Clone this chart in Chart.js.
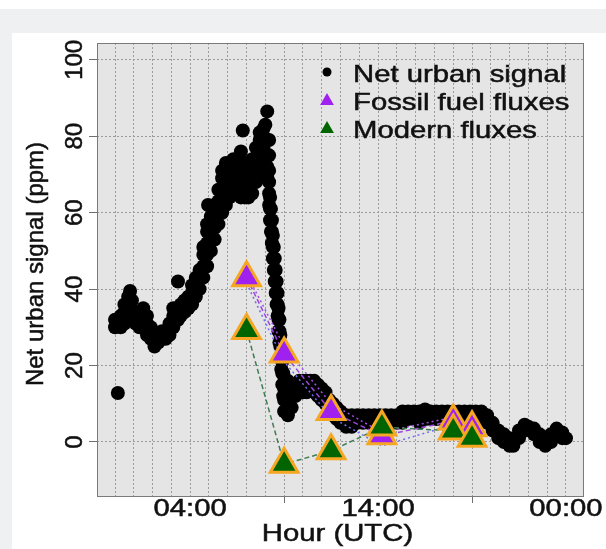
<!DOCTYPE html>
<html>
<head>
<meta charset="utf-8">
<script src="https://cdn.jsdelivr.net/npm/chart.js@4.4.1/dist/chart.umd.min.js"></script>
<style>
  body { margin: 0; background: #ffffff; }
  #wrap { width: 606px; height: 549px; }
</style>
</head>
<body>
<div id="wrap"><canvas id="signal" width="606" height="549"></canvas></div>
<script>
// hour (UTC) of each sample, and the readings taken at that hour
const signalHours = [
  0, 0.15, 0.3, 0.5, 0.7, 0.8, 0.9, 1.1, 1.3, 1.5, 1.7, 1.9, 2.1, 2.3, 2.5, 2.7,
  2.9, 3.1, 3.35, 3.5, 3.7, 3.9, 4.1, 4.3, 4.5, 4.7, 4.9, 4.95, 5.1, 5.3, 5.5,
  5.7, 5.9, 6.1, 6.3, 6.5, 6.7, 6.8, 6.9, 7.1, 7.3, 7.5, 7.7, 7.9, 8.0, 8.1,
  8.2, 8.25, 8.3, 8.35, 8.4, 8.45, 8.5, 8.55, 8.6, 8.65, 8.7, 8.75, 8.8, 8.85,
  8.9, 8.95, 9.0, 9.2, 9.4, 9.6, 9.8, 10.0, 10.2,
  10.4, 10.6, 10.8, 11.0, 11.2, 11.4, 11.6, 11.8, 12.0, 12.3, 12.6, 12.9, 13.2,
  13.5, 13.8, 14.1, 14.4, 14.7, 15.0, 15.3, 15.6, 15.9, 16.2, 16.5, 16.8, 17.1,
  17.4, 17.7, 18.0, 18.3, 18.6, 18.9, 19.2, 19.5, 19.8, 20.1, 20.4, 20.7, 21.0,
  21.2, 21.5, 21.8, 22.0, 22.3, 22.6, 22.9, 23.2, 23.5, 23.8, 24.0,
];
const signalValues = [
  [30, 32], [12.8, 31], [30, 33], [31, 34, 36], [33, 36, 38], [39.5], [34, 37],
  [31, 34], [30, 33], [32, 35], [28, 31, 33], [27, 30], [25, 27], [26, 28],
  [27, 29], [27, 29], [28, 31], [30, 33, 35], [32, 35, 42], [33, 36], [34, 37],
  [35, 38], [36, 39, 41], [38, 41, 43], [40, 43, 45], [43, 46, 49, 51],
  [46, 49, 52, 55, 57], [62], [50, 53, 56, 59], [53, 56, 59, 62], [57, 60, 63, 66],
  [60, 63, 66, 69, 71], [62, 65, 68, 71, 73], [64, 67, 70, 73], [65, 68, 71, 74],
  [65, 68, 71, 74], [64, 67, 70, 73, 76], [81.5], [64, 67, 70, 73], [64, 67, 70, 73],
  [65, 68, 71, 74], [68, 71, 74, 77], [70, 73, 76, 79, 81], [71, 74, 77, 80, 82], [83],
  [69, 72, 75, 86.5], [62, 65, 68, 71, 75, 79], [58, 61, 64], [55, 58, 61], [52, 55, 58],
  [48, 51, 54], [45, 48, 51], [42, 45, 48], [39, 42, 45], [36, 39, 42], [33, 36, 39],
  [29, 32, 35], [26, 29, 32], [22, 25, 28], [19, 22, 25], [15, 18, 21], [12, 15, 18],
  [8, 11, 14], [7, 10, 13, 16], [9, 12, 15], [12, 15], [13, 16], [13, 16],
  [13, 16], [14, 16], [13, 16], [12, 15], [11, 14], [10, 13], [8, 11], [7, 10],
  [6, 9], [5, 8], [4, 7], [4, 7], [5, 7], [5, 7], [5, 7], [5, 7], [5, 7], [5, 7],
  [5, 7], [5, 7], [5, 8], [6, 8], [6, 8], [5, 8], [6, 8.5], [6, 8], [6, 8],
  [6, 8], [6, 8], [6, 8], [6, 8], [6, 8], [6, 8], [6, 8], [6, 8], [5, 7], [3, 5],
  [1, 3], [0, 2], [-1, 1], [-1], [1, 3], [3, 4.5], [4], [2, 3.5], [0, 2], [-1, 1],
  [0, 2], [2, 3.5], [1, 2.5], [1],
];

// flux estimates (ppm) at the flask hours
const fluxHours = [7, 9, 11.5, 14.2, 18, 19];
const fossilFlux = [43, 23, 8, 1.6, 5.5, 3.7];
const fossilUpper = [44, 25, 10, 2.5, 6.5, 4.5];
const fossilLower = [41.5, 21, 6.5, -1, 4.5, 3];
const modernFlux = [29.2, -5.8, -2.3, 3.9, 2.9, 1.0];

const gridHours = [0, 1, 2, 3, 4, 5, 6, 7, 8, 9, 10, 11, 12, 13, 14, 15, 16, 17, 18, 19, 20, 21, 22, 23, 24];
const xTickHours = [4, 9, 14, 19, 24];
const xTickLabels = ["04:00", "", "14:00", "", "00:00"];
const yTicks = [0, 20, 40, 60, 80, 100];
const legendLabels = ["Net urban signal", "Fossil fuel fluxes", "Modern fluxes"];

const FONT = '24px "Liberation Sans", Arial, sans-serif';
const WIDEN = 1.22; // horizontal text in the figure is drawn wider than normal

const signalPoints = [];
signalHours.forEach((h, i) => {
  signalValues[i].forEach((v) => signalPoints.push({ x: h, y: v }));
});
const pairUp = (vals) => fluxHours.map((h, i) => ({ x: h, y: vals[i] }));

function wideText(ctx, text, x, y, align) {
  ctx.save();
  ctx.translate(x, y);
  ctx.scale(WIDEN, 1);
  ctx.textAlign = align;
  ctx.fillText(text, 0, 0);
  ctx.strokeText(text, 0, 0);
  ctx.restore();
}

function upText(ctx, text, x, y) {
  ctx.save();
  ctx.translate(x, y);
  ctx.rotate(-Math.PI / 2);
  ctx.textAlign = "center";
  ctx.fillText(text, 0, 0);
  ctx.strokeText(text, 0, 0);
  ctx.restore();
}

const backdrop = {
  id: "backdrop",
  beforeDraw(chart) {
    const { ctx, chartArea: a } = chart;
    ctx.save();
    ctx.fillStyle = "#eef0f2";
    ctx.fillRect(0, 0, 606, 549);
    ctx.fillStyle = "#ffffff";
    ctx.fillRect(0, 0, 606, 9);
    ctx.fillRect(12, 33, 594, 516);
    ctx.fillStyle = "#e5e5e5";
    ctx.fillRect(a.left, a.top, a.right - a.left, a.bottom - a.top);
    ctx.restore();
  },
};

const labels = {
  id: "labels",
  afterDraw(chart) {
    const { ctx, chartArea: a } = chart;
    const xs = chart.scales.x;
    const ys = chart.scales.y;
    ctx.save();
    ctx.strokeStyle = "#7a7a7a";
    ctx.lineWidth = 1;
    ctx.strokeRect(a.left + 0.5, a.top + 0.5, a.right - a.left - 1, a.bottom - a.top - 1);

    ctx.fillStyle = "#111111";
    ctx.strokeStyle = "#111111";
    ctx.lineWidth = 0.5;
    ctx.font = FONT;
    ctx.textBaseline = "alphabetic";
    xTickHours.forEach((h, i) => {
      if (xTickLabels[i]) wideText(ctx, xTickLabels[i], xs.getPixelForValue(h), a.bottom + 19, "center");
    });
    wideText(ctx, "Hour (UTC)", (a.left + a.right) / 2 - 3, a.bottom + 44, "center");
    yTicks.forEach((v) => upText(ctx, String(v), 82, ys.getPixelForValue(v)));
    upText(ctx, "Net urban signal (ppm)", 43, 264);

    // legend, top right inside the panel
    const lx = 327;
    const rows = [72, 100, 128];
    ctx.fillStyle = "#000000";
    ctx.beginPath();
    ctx.arc(lx, rows[0], 4.5, 0, Math.PI * 2);
    ctx.fill();
    ctx.fillStyle = "#a020f0";
    Chart.helpers.drawPoint(ctx, { pointStyle: "triangle", radius: 8, borderWidth: 0 }, lx, rows[1] + 1);
    ctx.fillStyle = "#006400";
    Chart.helpers.drawPoint(ctx, { pointStyle: "triangle", radius: 8, borderWidth: 0 }, lx, rows[2] + 1);
    ctx.fillStyle = "#111111";
    legendLabels.forEach((t, i) => wideText(ctx, t, 353, rows[i] + 9.5, "left"));
    ctx.restore();
  },
};

new Chart(document.getElementById("signal"), {
  type: "scatter",
  data: {
    datasets: [
      {
        label: "Net urban signal",
        data: signalPoints,
        pointRadius: 7,
        backgroundColor: "#000000",
        borderWidth: 0,
        order: 6,
      },
      {
        label: "Fossil upper",
        data: pairUp(fossilUpper),
        showLine: true,
        borderColor: "#a24ee6",
        borderWidth: 1.5,
        borderDash: [2, 3],
        pointRadius: 0,
        order: 5,
      },
      {
        label: "Fossil lower",
        data: pairUp(fossilLower),
        showLine: true,
        borderColor: "#6f6cf2",
        borderWidth: 1.5,
        borderDash: [2, 3],
        pointRadius: 0,
        order: 4,
      },
      {
        label: "Fossil line",
        data: pairUp(fossilFlux),
        showLine: true,
        borderColor: "#9b45de",
        borderWidth: 1.5,
        borderDash: [5, 3],
        pointRadius: 0,
        order: 3,
      },
      {
        label: "Modern line",
        data: pairUp(modernFlux),
        showLine: true,
        borderColor: "#3f7d55",
        borderWidth: 1.5,
        borderDash: [5, 3],
        pointRadius: 0,
        order: 2,
      },
      {
        label: "Fossil fuel fluxes",
        data: pairUp(fossilFlux),
        pointStyle: "triangle",
        pointRadius: 16,
        backgroundColor: "#a020f0",
        borderColor: "#f5a623",
        borderWidth: 3,
        order: 1,
      },
      {
        label: "Modern fluxes",
        data: pairUp(modernFlux),
        pointStyle: "triangle",
        pointRadius: 16,
        backgroundColor: "#006400",
        borderColor: "#f5a623",
        borderWidth: 3,
        order: 0,
      },
    ],
  },
  options: {
    responsive: false,
    animation: false,
    events: [],
    layout: { padding: { top: 43, right: 22, left: 0, bottom: 0 } },
    plugins: { legend: { display: false }, tooltip: { enabled: false } },
    scales: {
      x: {
        type: "linear",
        min: -0.96,
        max: 24.96,
        afterBuildTicks: (s) => {
          s.ticks = gridHours.map((h) => ({ value: h }));
        },
        afterFit: (s) => {
          s.height = 52;
        },
        ticks: { display: false },
        grid: {
          color: "#9c9c9c",
          lineWidth: 1,
          tickLength: 6,
          tickColor: (c) => {
            const i = xTickHours.indexOf(c.tick.value);
            return i >= 0 && !xTickLabels[i] ? "#707070" : "rgba(0,0,0,0)";
          },
        },
        border: { display: false, dash: [2, 2] },
      },
      y: {
        type: "linear",
        min: -14.4,
        max: 104.4,
        afterBuildTicks: (s) => {
          s.ticks = yTicks.map((v) => ({ value: v }));
        },
        afterFit: (s) => {
          s.width = 97;
        },
        ticks: { display: false },
        grid: { color: "#9c9c9c", lineWidth: 1, tickLength: 8, tickColor: "#707070" },
        border: { display: false, dash: [2, 2] },
      },
    },
  },
  plugins: [backdrop, labels],
});
</script>
</body>
</html>
